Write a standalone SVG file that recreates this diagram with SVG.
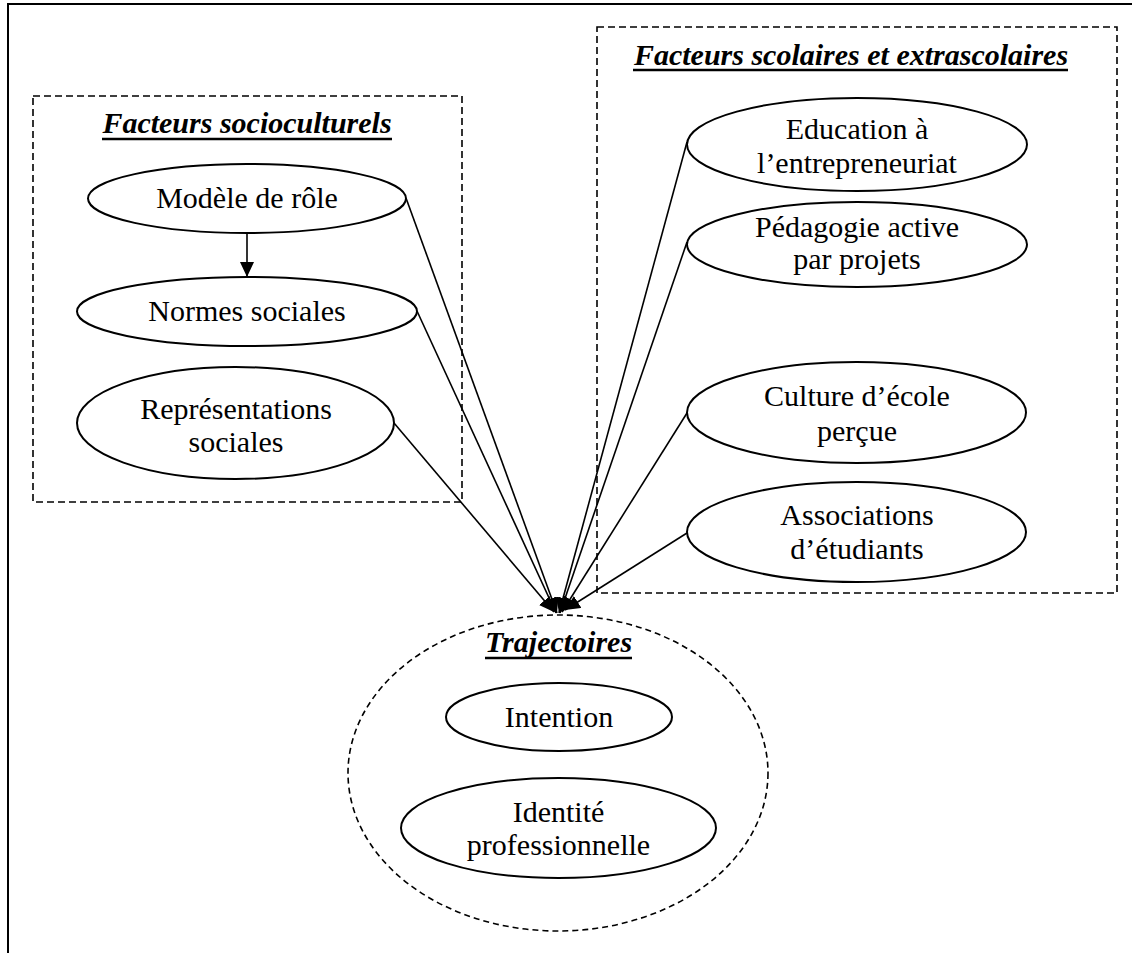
<svg xmlns="http://www.w3.org/2000/svg" width="1132" height="953" viewBox="0 0 1132 953">
<style>
.frame{fill:none;stroke:#000;stroke-width:2}
.box{fill:none;stroke:#000;stroke-width:1.6;stroke-dasharray:7 4}
.dashell{fill:none;stroke:#000;stroke-width:1.6;stroke-dasharray:6 4}
.node{fill:#fff;stroke:#000;stroke-width:2}
.t{font-family:"Liberation Serif","Times New Roman",serif;font-size:30px;fill:#000;text-anchor:middle}
.title{font-family:"Liberation Serif","Times New Roman",serif;font-size:30px;font-weight:bold;font-style:italic;fill:#000;text-anchor:middle}
.ul{stroke:#000;stroke-width:2.5}
.conn{fill:none;stroke:#000;stroke-width:1.6;marker-end:url(#ah)}
</style>
<defs>
<marker id="ah" markerUnits="userSpaceOnUse" markerWidth="16" markerHeight="14" refX="15" refY="7" orient="auto">
<path d="M0,0 L15,7 L0,14 z" fill="#000"/>
</marker>
</defs>
<rect width="1132" height="953" fill="#fff"/>
<path class="frame" d="M8,953 L8,4 L1132,4"/>

<g id="group-socioculturels">
<rect class="box" x="33" y="96" width="429" height="406"/>
<text class="title" x="247" y="133">Facteurs socioculturels</text>
<line class="ul" x1="102" y1="139" x2="392" y2="139"/>
</g>

<g id="group-scolaires">
<rect class="box" x="597" y="27" width="520" height="566"/>
<text class="title" x="851" y="65">Facteurs scolaires et extrascolaires</text>
<line class="ul" x1="633" y1="70" x2="1068" y2="70"/>
</g>

<g id="group-trajectoires">
<ellipse class="dashell" cx="558" cy="773" rx="210" ry="158"/>
<text class="title" x="558.5" y="652">Trajectoires</text>
<line class="ul" x1="485" y1="658" x2="632" y2="658"/>
</g>

<g id="connectors">
<line class="conn" x1="247" y1="233" x2="247" y2="277"/>
<line class="conn" x1="406" y1="198" x2="557" y2="613"/>
<line class="conn" x1="417" y1="311" x2="556" y2="613"/>
<line class="conn" x1="394" y1="423" x2="554" y2="612"/>
<line class="conn" x1="687" y1="142" x2="559" y2="613"/>
<line class="conn" x1="687" y1="242" x2="560" y2="613"/>
<line class="conn" x1="687" y1="413" x2="562" y2="612"/>
<line class="conn" x1="687" y1="533" x2="565" y2="610"/>
</g>

<g id="node-modele">
<ellipse class="node" cx="247" cy="198.5" rx="159" ry="34.5"/>
<text class="t" x="247" y="208">Modèle de rôle</text>
</g>
<g id="node-normes">
<ellipse class="node" cx="247" cy="311.5" rx="170" ry="34.5"/>
<text class="t" x="247" y="321">Normes sociales</text>
</g>
<g id="node-representations">
<ellipse class="node" cx="235.5" cy="423" rx="158.5" ry="56"/>
<text class="t" x="236" y="419">Représentations</text>
<text class="t" x="236" y="452">sociales</text>
</g>

<g id="node-education">
<ellipse class="node" cx="857" cy="144.5" rx="170" ry="46.5"/>
<text class="t" x="857" y="139">Education à</text>
<text class="t" x="857" y="173">l’entrepreneuriat</text>
</g>
<g id="node-pedagogie">
<ellipse class="node" cx="857" cy="244.5" rx="170" ry="42.5"/>
<text class="t" x="857" y="237">Pédagogie active</text>
<text class="t" x="857" y="269">par projets</text>
</g>
<g id="node-culture">
<ellipse class="node" cx="856.5" cy="412.5" rx="169.5" ry="50.5"/>
<text class="t" x="857" y="406">Culture d’école</text>
<text class="t" x="857" y="441">perçue</text>
</g>
<g id="node-associations">
<ellipse class="node" cx="856.5" cy="532" rx="169.5" ry="50"/>
<text class="t" x="857" y="525">Associations</text>
<text class="t" x="857" y="559">d’étudiants</text>
</g>

<g id="node-intention">
<ellipse class="node" cx="559" cy="717" rx="113" ry="34"/>
<text class="t" x="559" y="727">Intention</text>
</g>
<g id="node-identite">
<ellipse class="node" cx="558.5" cy="828" rx="157.5" ry="50"/>
<text class="t" x="558.5" y="822">Identité</text>
<text class="t" x="558.5" y="855">professionnelle</text>
</g>
</svg>
